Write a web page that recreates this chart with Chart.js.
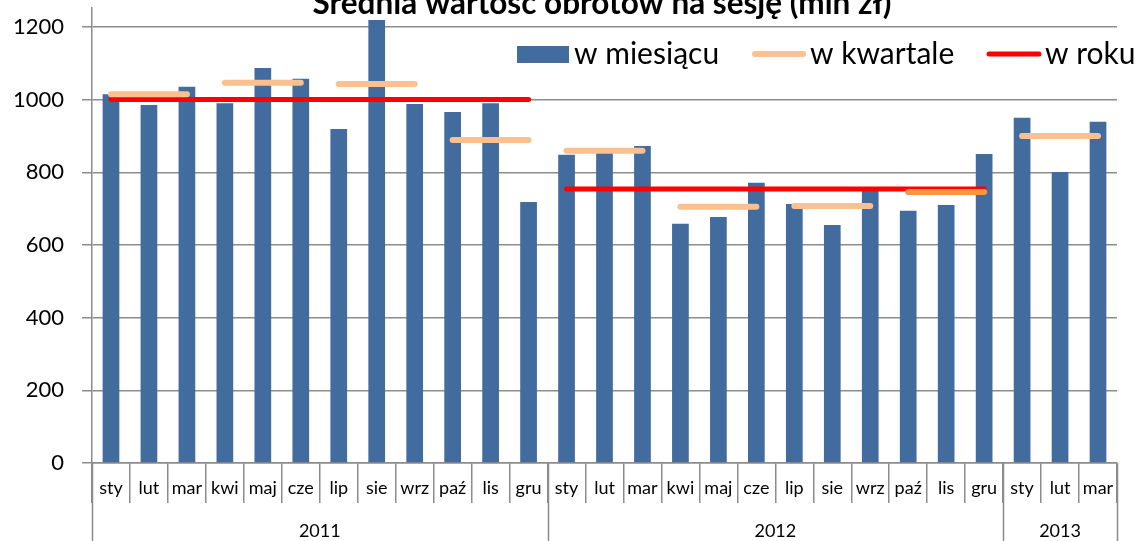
<!DOCTYPE html>
<html>
<head>
<meta charset="utf-8">
<script src="https://cdn.jsdelivr.net/npm/chart.js@4/dist/chart.umd.min.js"></script>
<style>
html,body{margin:0;padding:0;background:#fff;}
#wrap{width:1138px;height:541px;position:relative;}
</style>
</head>
<body>
<div id="wrap"><canvas id="c" width="1138" height="541"></canvas></div>
<script>
const titleText = 'Średnia wartość obrotów na sesję (mln zł)';
const months = ['sty','lut','mar','kwi','maj','cze','lip','sie','wrz','paź','lis','gru',
                'sty','lut','mar','kwi','maj','cze','lip','sie','wrz','paź','lis','gru',
                'sty','lut','mar'];
const years = ['2011','2012','2013'];
const monthsPerYear = [12,12,3];
const monthly = [1015,985,1035,990,1087,1057,919,1219,988,966,990,718,
                 848,856,872,658,677,771,713,655,755,694,710,850,
                 950,801,939];
const quarterly = [1015,1046,1043,889,859,705,707,746,900];
const yearly = [1000,754];
const seriesNames = ['w miesiącu','w kwartale','w roku'];

// expand quarterly / yearly values onto the month categories
const quarterData = months.map((m,i)=>quarterly[Math.floor(i/3)]);
const yearIndex = [];
monthsPerYear.forEach((n,yi)=>{for(let k=0;k<n;k++) yearIndex.push(yi);});
const yearData = months.map((m,i)=> yearly[yearIndex[i]] !== undefined ? yearly[yearIndex[i]] : null);

const FONT = 'Lato, "Open Sans", sans-serif';
const BLUE = '#426B9E', PEACH = '#FAC090', DARKPEACH = '#F79646', RED = '#FF0000', GRID = '#8C8C8C';

const overlay = {
  id:'overlay',
  afterDraw(chart){
    const ctx = chart.ctx, ca = chart.chartArea, xs = chart.scales.x;
    ctx.save();
    // title
    ctx.fillStyle = '#000';
    ctx.font = 'bold 31.5px ' + FONT;
    ctx.textAlign = 'center';
    ctx.textBaseline = 'alphabetic';
    ctx.fillText(titleText, 602, 14);
    // year separators and labels
    const w = (xs.getPixelForValue(1) - xs.getPixelForValue(0));
    ctx.strokeStyle = GRID; ctx.lineWidth = 1.5;
    let start = 0;
    ctx.font = '18px ' + FONT;
    ctx.textAlign = 'center';
    const edges = [0];
    monthsPerYear.forEach((n,yi)=>{
      const x0 = xs.getPixelForValue(start) - w/2;
      const x1 = xs.getPixelForValue(start+n-1) + w/2;
      ctx.fillText(years[yi], (x0+x1)/2, 537);
      start += n; edges.push(start);
    });
    edges.forEach(e=>{
      const x = Math.round(xs.getPixelForValue(0) - w/2 + e*w) + 0.5;
      ctx.beginPath(); ctx.moveTo(x, ca.bottom); ctx.lineTo(x, 541); ctx.stroke();
    });
    // legend
    ctx.font = '30px ' + FONT;
    ctx.textAlign = 'left';
    const items = [
      {x:517, w:52, tx:574, kind:'box', color:BLUE},
      {x:752, w:54, tx:810, kind:'line', color:PEACH, lw:6},
      {x:986, w:56, tx:1045, kind:'line', color:RED, lw:5}
    ];
    items.forEach((it,i)=>{
      if(it.kind==='box'){ ctx.fillStyle = it.color; ctx.fillRect(it.x, 46, it.w, 17); }
      else { ctx.strokeStyle = it.color; ctx.lineWidth = it.lw; ctx.lineCap='round';
        ctx.beginPath(); ctx.moveTo(it.x+3, 54); ctx.lineTo(it.x+it.w-3, 54); ctx.stroke(); }
      ctx.fillStyle = '#000';
      ctx.fillText(chart.data.datasets[i].label, it.tx, 64);
    });
    ctx.restore();
  }
};

new Chart(document.getElementById('c'), {
  type:'bar',
  data:{
    labels: months,
    datasets:[
      {label:seriesNames[0], data:monthly, backgroundColor:BLUE, borderWidth:0,
       categoryPercentage:1, barPercentage:0.44, order:3},
      {label:seriesNames[1], type:'line', data:quarterData, borderWidth:6, borderCapStyle:'round',
       pointRadius:0, borderColor:PEACH, order:1,
       segment:{borderColor: c => Math.floor(c.p0DataIndex/3)!==Math.floor(c.p1DataIndex/3) ? 'rgba(0,0,0,0)'
                 : (Math.floor(c.p0DataIndex/3)===7 ? DARKPEACH : PEACH)}},
      {label:seriesNames[2], type:'line', data:yearData, borderWidth:5, borderCapStyle:'round',
       pointRadius:0, borderColor:RED, order:2, spanGaps:false,
       segment:{borderColor: c => yearIndex[c.p0DataIndex]!==yearIndex[c.p1DataIndex] ? 'rgba(0,0,0,0)' : RED}}
    ]
  },
  options:{
    responsive:false, animation:false,
    layout:{padding:{top:8,right:21,left:0,bottom:0}},
    plugins:{legend:{display:false}, title:{display:false}, tooltip:{enabled:false}},
    scales:{
      x:{
        offset:true,
        grid:{display:true, drawOnChartArea:false, offset:true, tickLength:40, color:GRID, lineWidth:1.5},
        border:{display:true, color:GRID, width:1.5},
        ticks:{color:'#000', font:{family:FONT, size:18}, maxRotation:0, autoSkip:false, padding:-26},
        afterFit(s){ s.height = 78; s.paddingLeft = 0; s.paddingRight = 0; }
      },
      y:{
        min:0, max:1252,
        grid:{color:GRID, lineWidth:1.5, tickLength:10},
        border:{display:true, color:GRID, width:1.5},
        ticks:{stepSize:200, includeBounds:false, color:'#000', font:{family:FONT, size:22}, padding:18,
               callback: v => String(v)},
        afterFit(s){ s.width = 92; s.paddingTop = 0; s.paddingBottom = 0; }
      }
    }
  },
  plugins:[overlay]
});
</script>
</body>
</html>
